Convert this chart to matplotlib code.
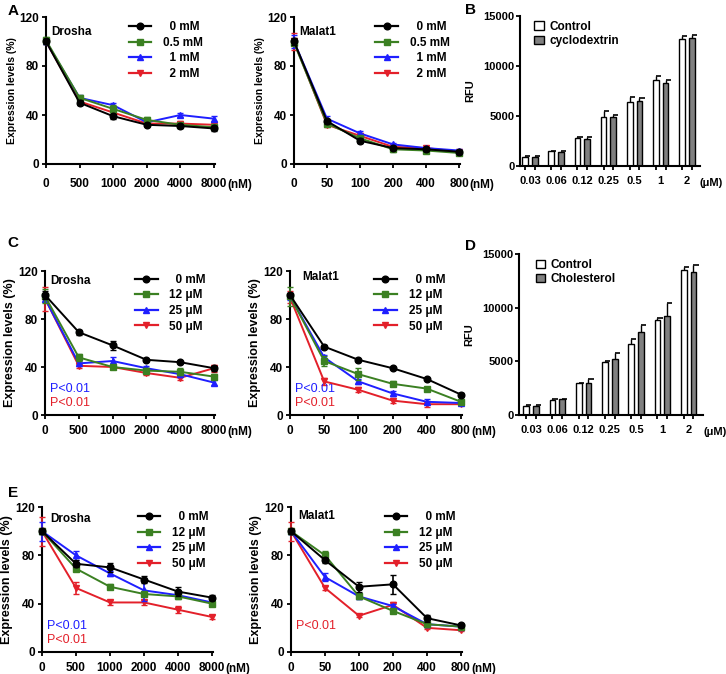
import numpy as np
import matplotlib
matplotlib.use("Agg")
import matplotlib.pyplot as plt
from matplotlib.lines import Line2D

plt.rcParams['font.family'] = ['Liberation Sans', 'DejaVu Sans']
plt.rcParams['font.weight'] = 'bold'
plt.rcParams['axes.labelweight'] = 'bold'

# ---- data -------------------------------------------------------------
drosha_x = ['0', '500', '1000', '2000', '4000', '8000']
malat_x = ['0', '50', '100', '200', '400', '800']
bar_x = ['0.03', '0.06', '0.12', '0.25', '0.5', '1', '2']

legend_a = ['  0 mM', '0.5 mM', '  1 mM', '  2 mM']
legend_ce = ['  0 mM', '12 \u03bcM', '25 \u03bcM', '50 \u03bcM']

# panel A
a_drosha = [[100, 50, 39, 32, 31, 29],
            [101, 54, 45, 36, 32, 30],
            [100, 54, 48, 34, 40, 37],
            [100, 51, 42, 33, 33, 32]]
a_drosha_err = [[2, 2, 2, 1, 2, 2], [3, 2, 3, 2, 1, 1],
                [2, 2, 2, 2, 2, 2], [2, 2, 2, 1, 2, 2]]
a_malat = [[100, 35, 19, 13, 12, 10],
           [99, 33, 21, 12, 11, 9],
           [100, 37, 25, 16, 13, 11],
           [100, 32, 23, 14, 13, 10]]
a_malat_err = [[3, 2, 2, 1, 1, 1], [2, 2, 2, 2, 1, 1],
               [5, 2, 2, 1, 1, 1], [7, 2, 2, 1, 1, 1]]

# panel C
c_drosha = [[100, 69, 58, 46, 44, 39],
            [99, 48, 40, 37, 36, 32],
            [97, 43, 45, 39, 34, 27],
            [97, 41, 40, 35, 31, 39]]
c_drosha_err = [[3, 2, 4, 1, 1, 2], [6, 3, 2, 2, 3, 2],
                [3, 2, 3, 2, 2, 2], [10, 2, 2, 2, 2, 3]]
c_malat = [[100, 57, 46, 39, 30, 17],
           [99, 45, 34, 26, 22, 11],
           [99, 48, 28, 18, 11, 10],
           [98, 28, 21, 12, 9, 9]]
c_malat_err = [[2, 1, 1, 1, 1, 1], [8, 4, 5, 2, 1, 2],
               [3, 2, 2, 2, 2, 1], [5, 3, 2, 2, 2, 1]]

# panel E
e_drosha = [[100, 73, 70, 60, 50, 45],
            [100, 69, 54, 48, 46, 40],
            [100, 80, 65, 51, 47, 41],
            [100, 53, 41, 41, 35, 29]]
e_drosha_err = [[2, 3, 4, 3, 4, 2], [2, 2, 2, 2, 2, 2],
                [8, 4, 2, 9, 2, 1], [12, 5, 2, 2, 3, 2]]
e_malat = [[100, 76, 54, 56, 28, 22],
           [100, 80, 46, 34, 23, 21],
           [100, 62, 46, 38, 23, 21],
           [100, 53, 30, 39, 20, 18]]
e_malat_err = [[2, 2, 4, 8, 3, 1], [2, 4, 2, 2, 2, 2],
               [2, 3, 2, 2, 2, 1], [8, 2, 1, 2, 1, 1]]

# panel B
b_control = [900, 1450, 2800, 4900, 6400, 8600, 12700]
b_control_err = [100, 50, 100, 550, 500, 400, 250]
b_cyclo = [850, 1400, 2700, 4850, 6500, 8300, 12800]
b_cyclo_err = [100, 50, 150, 250, 250, 300, 300]

# panel D
d_control = [870, 1400, 2950, 4900, 6650, 8830, 13500]
d_control_err = [80, 50, 50, 170, 410, 220, 250]
d_chol = [850, 1450, 3020, 5200, 7690, 9180, 13290]
d_chol_err = [100, 50, 310, 560, 710, 1250, 650]

colors = ['#000000', '#3b8022', '#1f1fff', '#e3202a']
markers = ['o', 's', '^', 'v']

W, H = 726, 674
fig = plt.figure(figsize=(W / 100, H / 100), dpi=100)


def px_axes(l, t, r, b):
    return fig.add_axes([l / W, 1 - b / H, (r - l) / W, (b - t) / H])


def style(ax, fs=8.5):
    for s in ['top', 'right']:
        ax.spines[s].set_visible(False)
    for s in ['left', 'bottom']:
        ax.spines[s].set_linewidth(1.5)
    ax.tick_params(width=1.3, length=3, labelsize=fs)


def line_panel(ax, xlabels, series, errs, labels, gene, gene_xy, leg_xy,
               pvals=(), ylab_fs=7.5, xpad=4, leg_fs=8.5, unit_off=12):
    x = np.arange(len(xlabels))
    handles = []
    for i, (ys, es) in enumerate(zip(series, errs)):
        ax.errorbar(x, ys, yerr=es, color=colors[i], marker=markers[i],
                    markersize=4.8, lw=1.4, elinewidth=1.2, capsize=2.5,
                    clip_on=False, zorder=3 + (3 - i))
        handles.append(Line2D([], [], color=colors[i], marker=markers[i],
                              markersize=4.8, lw=1.6, label=labels[i]))
    ax.set_xlim(0, len(xlabels) - 1 + 0.03)
    ax.set_ylim(0, 120)
    ax.set_yticks([0, 40, 80, 120])
    ax.set_xticks(x)
    ax.set_xticklabels(xlabels)
    style(ax)
    ax.tick_params(axis='x', pad=xpad)
    ax.tick_params(axis='y', pad=2)
    ax.set_ylabel('Expression levels (%)', fontsize=ylab_fs, labelpad=2)
    ax.text(gene_xy[0], gene_xy[1], gene, transform=ax.transAxes,
            fontsize=8.5, va='center', ha='left')
    ax.annotate('(nM)', xy=(1, 0), xycoords='axes fraction',
                xytext=(unit_off, -(xpad + 2.3 + 6)),
                textcoords='offset points', ha='left', va='center',
                fontsize=8.5)
    ax.legend(handles=handles, loc='upper left', bbox_to_anchor=leg_xy,
              frameon=False, fontsize=leg_fs, handlelength=1.9,
              handletextpad=1.0, labelspacing=0.3, borderaxespad=0,
              borderpad=0)
    for j, (txt, c) in enumerate(pvals):
        ax.text(0.03, 0.18 - j * 0.1, txt, transform=ax.transAxes,
                color=c, fontsize=9, fontweight='normal', va='center')


def bar_panel(ax, ctrl, ctrl_err, trt, trt_err, labels, leg_xy, xlim):
    x = np.arange(len(bar_x))
    off, w = 0.185, 0.22
    for xs, ys, es, fc, lab in [(x - off, ctrl, ctrl_err, 'white', labels[0]),
                                (x + off, trt, trt_err, '#808080', labels[1])]:
        ax.bar(xs, ys, width=w, color=fc, edgecolor='black', lw=1.0,
               label=lab, zorder=2)
        tops = np.array(ys) + np.array(es)
        ax.vlines(xs, ys, tops, color='black', lw=1.0, zorder=1)
        ax.hlines(tops, xs, xs + w * 0.9, color='black', lw=1.2, zorder=1)
    ax.set_xlim(*xlim)
    ax.set_ylim(0, 15000)
    ax.set_yticks([0, 5000, 10000, 15000])
    ax.set_xticks(np.concatenate([x - off, x + off]))
    ax.set_xticklabels([])
    ax.set_xticks(x, minor=True)
    ax.set_xticklabels(bar_x, minor=True)
    style(ax)
    ax.tick_params(axis='x', which='minor', length=0, pad=7, labelsize=8)
    ax.tick_params(axis='y', pad=1, labelsize=8)
    ax.set_ylabel('RFU', fontsize=8, labelpad=6)
    ax.annotate('(\u03bcM)', xy=(1, 0), xycoords='axes fraction',
                xytext=(0, -12.5), textcoords='offset points',
                ha='left', va='center', fontsize=8)
    ax.legend(loc='upper left', bbox_to_anchor=leg_xy, frameon=False,
              fontsize=8.5, handlelength=0.8, handleheight=0.7,
              handletextpad=0.5, labelspacing=0.2, borderaxespad=0,
              borderpad=0)


# ---- panel A ----------------------------------------------------------
ax = px_axes(46, 17, 215, 164)
line_panel(ax, drosha_x, a_drosha, a_drosha_err, legend_a, 'Drosha',
           (0.03, 0.9), (0.49, 0.97), xpad=7, unit_off=9)
ax = px_axes(294, 17, 460, 164)
line_panel(ax, malat_x, a_malat, a_malat_err, legend_a, 'Malat1',
           (0.03, 0.9), (0.49, 0.97), xpad=7, unit_off=7)

# ---- panel B ----------------------------------------------------------
ax = px_axes(520, 16, 700, 166)
bar_panel(ax, b_control, b_control_err, b_cyclo, b_cyclo_err,
          ['Control', 'cyclodextrin'], (0.08, 0.97), (-0.38, 6.5))

# ---- panel C ----------------------------------------------------------
p_both = [('P<0.01', '#1f1fff'), ('P<0.01', '#e3202a')]
ax = px_axes(45, 271, 215, 415)
line_panel(ax, drosha_x, c_drosha, c_drosha_err, legend_ce, 'Drosha',
           (0.03, 0.93), (0.53, 0.98), ylab_fs=9, pvals=p_both, unit_off=9)
ax = px_axes(290, 271, 462, 415)
line_panel(ax, malat_x, c_malat, c_malat_err, legend_ce, 'Malat1',
           (0.07, 0.96), (0.49, 0.98), ylab_fs=9, pvals=p_both, unit_off=7)

# ---- panel D ----------------------------------------------------------
ax = px_axes(519, 254, 703, 415)
bar_panel(ax, d_control, d_control_err, d_chol, d_chol_err,
          ['Control', 'Cholesterol'], (0.09, 0.97), (-0.46, 6.55))

# ---- panel E ----------------------------------------------------------
ax = px_axes(42, 507, 213, 652)
line_panel(ax, drosha_x, e_drosha, e_drosha_err, legend_ce, 'Drosha',
           (0.05, 0.92), (0.56, 0.97), ylab_fs=9, pvals=p_both, unit_off=9)
ax = px_axes(291, 507, 462, 652)
line_panel(ax, malat_x, e_malat, e_malat_err, legend_ce, 'Malat1',
           (0.04, 0.94), (0.55, 0.97), ylab_fs=9,
           pvals=[('P<0.01', '#e3202a')], unit_off=7)

# ---- panel letters ----------------------------------------------------
for lab, px, py in [('A', 13, 11), ('B', 470, 10), ('C', 13, 243),
                    ('D', 470, 246), ('E', 13, 493)]:
    fig.text(px / W, 1 - py / H, lab, fontsize=11, fontweight='bold',
             ha='center', va='center')

fig.savefig('out.png', dpi=100)
